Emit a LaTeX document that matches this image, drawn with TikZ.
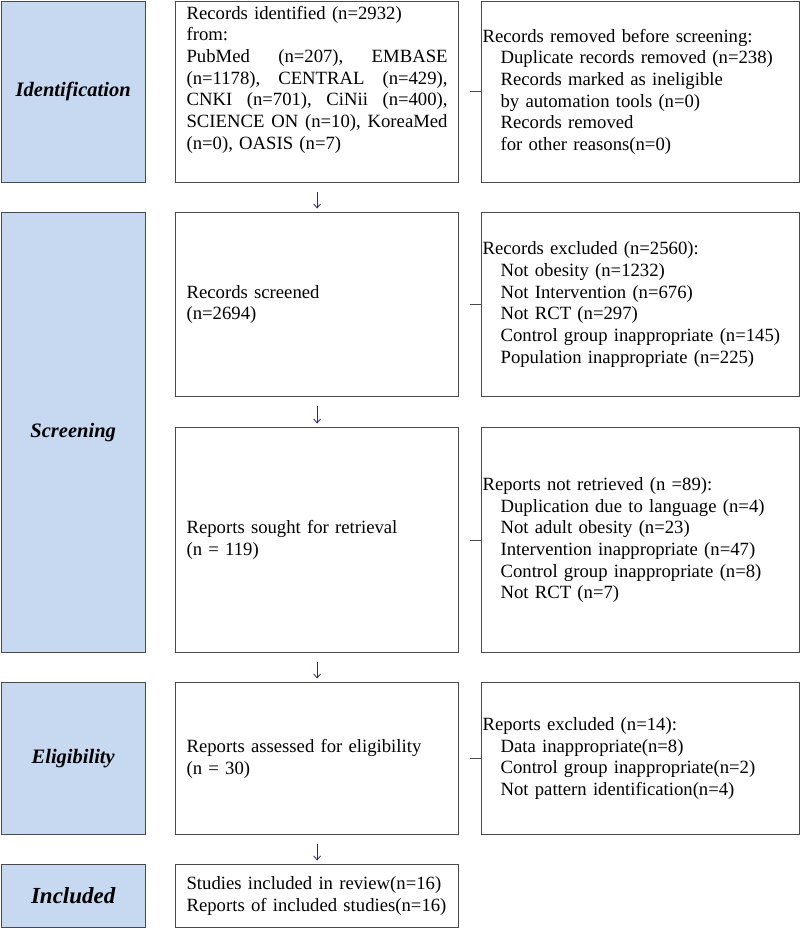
\documentclass[tikz,border=0pt]{standalone}
\usepackage{fontspec}
\setmainfont{Liberation Serif}
\usetikzlibrary{arrows.meta}
\definecolor{stagefill}{HTML}{C6D9F1}
\definecolor{boxline}{HTML}{4A4A4A}
\definecolor{arrowcol}{HTML}{2E2A5C}
\newcommand{\indentrow}{\hspace*{18pt}}
\newcommand{\fullrow}[1]{\leavevmode\hbox to 261pt{#1}}

\begin{document}
\begin{tikzpicture}[x=1pt, y=-1pt,
  stage/.style={draw=boxline, line width=1.2pt, fill=stagefill, anchor=north west,
    inner sep=0pt, minimum width=144pt, font=\fontsize{20.5}{24}\selectfont\bfseries\itshape},
  midbox/.style={draw=boxline, line width=1.2pt, anchor=north west, inner xsep=11pt,
    inner ysep=0pt, text width=261pt, minimum width=283pt, align=left,
    font=\fontsize{18.7}{21.7}\selectfont},
  sidebox/.style={draw=boxline, line width=1.2pt, anchor=north west, inner xsep=1pt,
    inner ysep=0pt, text width=316pt, minimum width=318pt, align=left,
    font=\fontsize{18.7}{21.7}\selectfont},
  flow/.style={draw=arrowcol, line width=0.8pt, -{Straight Barb[length=4pt,width=7pt]},
    shorten <=9pt, shorten >=3.5pt},
  tick/.style={draw=boxline, line width=1pt, shorten <=11pt}]

\useasboundingbox (0,0) rectangle (800,928);

\node[stage, minimum height=181pt] (idbar)   at (0.6,0.6) {Identification};
\node[stage, minimum height=440pt] (scrbar)  at (0.6,212) {Screening};
\node[stage, minimum height=152pt] (eligbar) at (0.6,682) {Eligibility};
\node[stage, minimum height=63pt, font=\fontsize{23}{26}\selectfont\bfseries\itshape] (inclbar) at (0.6,864) {Included};

\node[midbox, minimum height=181pt] (found) at (175,0.6) {Records identified (n=2932)\\
from:\\
\fullrow{PubMed\hfill (n=207),\hfill EMBASE}\\
\fullrow{(n=1178),\hfill CENTRAL\hfill (n=429),}\\
\fullrow{CNKI\hfill (n=701),\hfill CiNii\hfill (n=400),}\\
\fullrow{SCIENCE\hfill ON\hfill (n=10),\hfill KoreaMed}\\
(n=0), OASIS (n=7)\\
\strut};
\node[midbox, minimum height=184pt] (screened) at (175,212) {Records screened\\(n=2694)};
\node[midbox, minimum height=225pt] (sought)   at (175,427) {Reports sought for retrieval\\(n = 119)};
\node[midbox, minimum height=152pt] (assessed) at (175,682) {Reports assessed for eligibility\\(n = 30)};
\node[midbox, minimum height=63pt]  (included) at (175,864) {Studies included in review(n=16)\\Reports of included studies(n=16)};

\node[sidebox, minimum height=181pt] (removed) at (481,0.6) {Records removed before screening:\\
\indentrow Duplicate records removed (n=238)\\
\indentrow Records marked as ineligible\\
\indentrow by automation tools (n=0)\\
\indentrow Records removed\\
\indentrow for other reasons(n=0)};
\node[sidebox, minimum height=184pt] (excluded) at (481,212) {Records excluded (n=2560):\\
\indentrow Not obesity (n=1232)\\
\indentrow Not Intervention (n=676)\\
\indentrow Not RCT (n=297)\\
\indentrow Control group inappropriate (n=145)\\
\indentrow Population inappropriate (n=225)};
\node[sidebox, minimum height=225pt] (notretr) at (481,427) {Reports not retrieved (n =89):\\
\indentrow Duplication due to language (n=4)\\
\indentrow Not adult obesity (n=23)\\
\indentrow Intervention inappropriate (n=47)\\
\indentrow Control group inappropriate (n=8)\\
\indentrow Not RCT (n=7)};
\node[sidebox, minimum height=152pt] (rexcl) at (481,682) {Reports excluded (n=14):\\
\indentrow Data inappropriate(n=8)\\
\indentrow Control group inappropriate(n=2)\\
\indentrow Not pattern identification(n=4)};

\draw[flow] (found) -- (screened);
\draw[flow] (screened) -- (sought);
\draw[flow] (sought) -- (assessed);
\draw[flow] (assessed) -- (included);

\draw[tick] (found) -- (removed);
\draw[tick] (screened) -- (excluded);
\draw[tick] (sought) -- (notretr);
\draw[tick] (assessed) -- (rexcl);

\end{tikzpicture}
\end{document}
